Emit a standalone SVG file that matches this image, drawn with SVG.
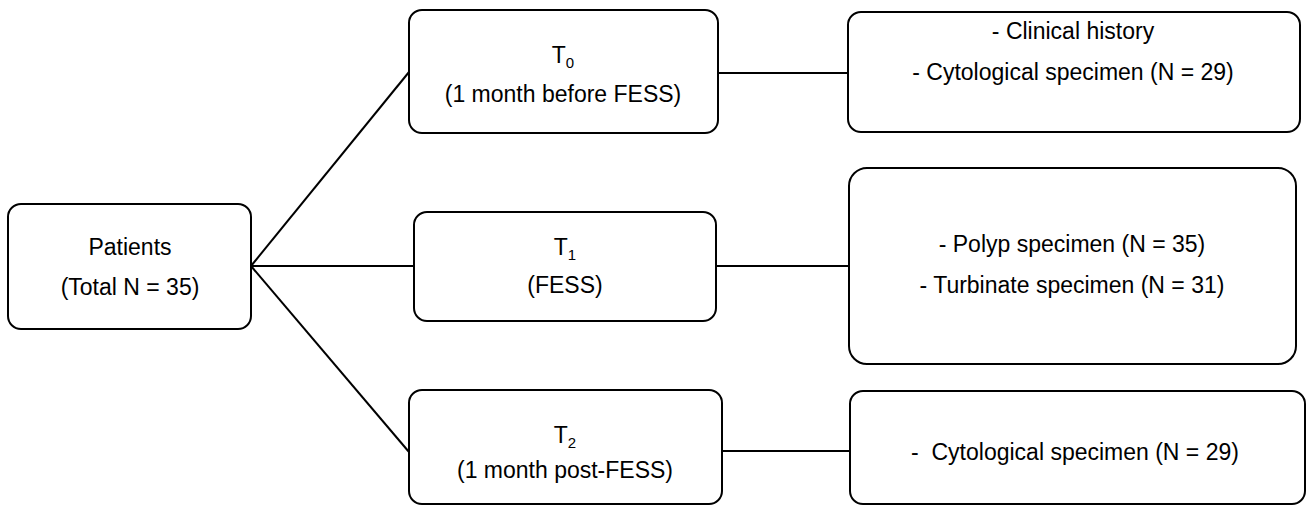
<svg xmlns="http://www.w3.org/2000/svg" width="1315" height="513" viewBox="0 0 1315 513">
<style>
.box{fill:#fff;stroke:#000;stroke-width:2}
.ln{stroke:#000;stroke-width:2;fill:none}
text{font-family:"Liberation Sans",Arial,sans-serif;font-size:23px;fill:#000;text-anchor:middle}
.sub{font-size:15px}
</style>
<rect width="1315" height="513" fill="#fff"/>
<g id="connectors">
<line class="ln" x1="251" y1="266" x2="409" y2="72"/>
<line class="ln" x1="251" y1="266" x2="414" y2="266"/>
<line class="ln" x1="251" y1="266" x2="409" y2="452"/>
<line class="ln" x1="717" y1="73" x2="848" y2="73"/>
<line class="ln" x1="716" y1="266" x2="849" y2="266"/>
<line class="ln" x1="722" y1="451" x2="850" y2="451"/>
</g>
<g id="patients">
<rect class="box" x="8" y="204" width="243" height="125" rx="13"/>
<text x="130" y="255">Patients</text>
<text x="130" y="295">(Total N = 35)</text>
</g>
<g id="t0">
<rect class="box" x="409" y="10" width="309" height="123" rx="13"/>
<text x="563" y="63">T<tspan class="sub" dy="5">0</tspan></text>
<text x="563" y="102">(1 month before FESS)</text>
</g>
<g id="t1">
<rect class="box" x="414" y="212" width="302" height="109" rx="13"/>
<text x="565" y="255">T<tspan class="sub" dy="5">1</tspan></text>
<text x="565" y="293">(FESS)</text>
</g>
<g id="t2">
<rect class="box" x="409" y="390" width="313" height="114" rx="13"/>
<text x="565" y="443">T<tspan class="sub" dy="5">2</tspan></text>
<text x="565" y="478">(1 month post-FESS)</text>
</g>
<g id="r0">
<rect class="box" x="848" y="12" width="452" height="120" rx="13"/>
<text x="1073" y="39">- Clinical history</text>
<text x="1073" y="80">- Cytological specimen (N = 29)</text>
</g>
<g id="r1">
<rect class="box" x="849" y="168" width="447" height="196" rx="18"/>
<text x="1072" y="252">- Polyp specimen (N = 35)</text>
<text x="1072" y="293">- Turbinate specimen (N = 31)</text>
</g>
<g id="r2">
<rect class="box" x="850" y="391" width="455" height="113" rx="13"/>
<text x="1075" y="460" xml:space="preserve">-  Cytological specimen (N = 29)</text>
</g>
</svg>
